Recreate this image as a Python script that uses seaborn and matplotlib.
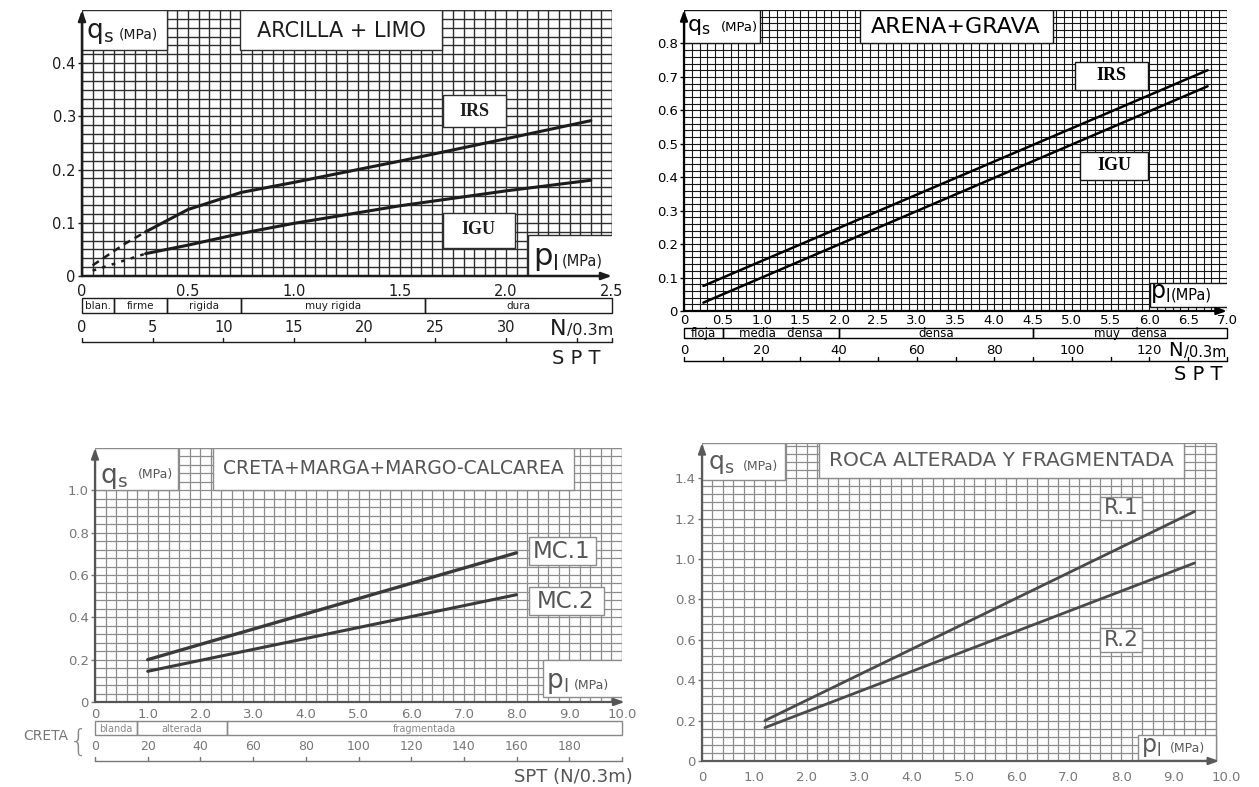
import numpy as np
import pandas as pd
import matplotlib
matplotlib.use("Agg")
import matplotlib.pyplot as plt
import matplotlib.transforms as mtransforms
from matplotlib.patches import Rectangle
import seaborn as sns

sns.set_theme(style="ticks")
plt.rcParams["font.family"] = ["DejaVu Sans"]
plt.rcParams["mathtext.fontset"] = "dejavusans"

W, H = 1259, 787

# ---------------- data ----------------
# ARCILLA + LIMO  (pl in MPa, qs in MPa)
arc_irs_pl = [0.05, 0.2, 0.3, 0.5, 0.75, 1.0, 1.5, 2.0, 2.4]
arc_irs_qs = [0.02, 0.06, 0.083, 0.125, 0.157, 0.176, 0.216, 0.258, 0.292]
arc_igu_pl = [0.05, 0.3, 0.5, 0.75, 1.0, 1.5, 2.0, 2.4]
arc_igu_qs = [0.01, 0.042, 0.058, 0.08, 0.099, 0.132, 0.16, 0.18]
arc_extrapolated_to = 0.3
arc_band_edges = [0, 0.15, 0.40, 0.75, 1.62, 2.5]
arc_band_labels = ["blan.", "firme", "rigida", "muy rigida", "dura"]
arc_spt_ticks = [0, 5, 10, 15, 20, 25, 30, 35]
arc_spt_labels = [0, 5, 10, 15, 20, 25, 30]
arc_n_per_mpa = 15
arc_xticks = [0, 0.5, 1.0, 1.5, 2.0, 2.5]
arc_xlabels = ["0", "0.5", "1.0", "1.5", "2.0", "2.5"]
arc_yticks = [0, 0.1, 0.2, 0.3, 0.4]
arc_ylabels = ["0", "0.1", "0.2", "0.3", "0.4"]

# ARENA + GRAVA
are_pl = [0.25, 6.75]
are_irs_qs = [0.075, 0.72]
are_igu_qs = [0.025, 0.672]
are_band_edges = [0, 0.5, 2.0, 4.5, 7.0]
are_band_labels = ["floja", "media   densa", "densa", "muy   densa"]
are_spt_ticks = [0, 10, 20, 30, 40, 50, 60, 70, 80, 90, 100, 110, 120, 130]
are_spt_labels = [0, 20, 40, 60, 80, 100, 120]
are_n_per_mpa = 20
are_xticks = [0, 0.5, 1.0, 1.5, 2.0, 2.5, 3.0, 3.5, 4.0, 4.5, 5.0, 5.5, 6.0, 6.5, 7.0]
are_xlabels = ["0", "0.5", "1.0", "1.5", "2.0", "2.5", "3.0", "3.5", "4.0",
               "4.5", "5.0", "5.5", "6.0", "6.5", "7.0"]
are_yticks = [0, 0.1, 0.2, 0.3, 0.4, 0.5, 0.6, 0.7, 0.8]
are_ylabels = ["0", "0.1", "0.2", "0.3", "0.4", "0.5", "0.6", "0.7", "0.8"]

# CRETA + MARGA + MARGO-CALCAREA
cre_pl = [1.0, 8.0]
cre_mc1_qs = [0.2, 0.705]
cre_mc2_qs = [0.145, 0.507]
cre_band_edges = [0, 0.8, 2.5, 10.0]
cre_band_labels = ["blanda", "alterada", "fragmentada"]
cre_spt_ticks = [0, 20, 40, 60, 80, 100, 120, 140, 160, 180]
cre_spt_labels = [0, 20, 40, 60, 80, 100, 120, 140, 160, 180]
cre_n_per_mpa = 20
rock_xticks = [0, 1, 2, 3, 4, 5, 6, 7, 8, 9, 10]
rock_xlabels = ["0", "1.0", "2.0", "3.0", "4.0", "5.0", "6.0", "7.0", "8.0", "9.0", "10.0"]
cre_yticks = [0, 0.2, 0.4, 0.6, 0.8, 1.0]
cre_ylabels = ["0", "0.2", "0.4", "0.6", "0.8", "1.0"]

# ROCA ALTERADA Y FRAGMENTADA
roc_pl = [1.2, 9.4]
roc_r1_qs = [0.2, 1.235]
roc_r2_qs = [0.165, 0.98]
roc_yticks = [0, 0.2, 0.4, 0.6, 0.8, 1.0, 1.2, 1.4]
roc_ylabels = ["0", "0.2", "0.4", "0.6", "0.8", "1.0", "1.2", "1.4"]

# ---------------- figure ----------------
fig = plt.figure(figsize=(W / 100, H / 100), dpi=100)
fig.patch.set_facecolor("white")
# figure pixel coordinates, origin top-left
PX = mtransforms.Affine2D().scale(1 / W, -1 / H).translate(0, 1) + fig.transFigure


def make_axes(x0, x1, ytop, ybot, xlim, ylim):
    ax = fig.add_axes([x0 / W, 1 - ybot / H, (x1 - x0) / W, (ybot - ytop) / H])
    ax.set_facecolor("white")
    for s in ax.spines.values():
        s.set_visible(False)
    ax.set_xlim(*xlim)
    ax.set_ylim(*ylim)
    return ax


def draw_paper(ax, gx, gy, dx, dy, color, lw):
    xs = np.round(np.arange(0, gx + dx / 2, dx), 6)
    ys = np.round(np.arange(0, gy + dy / 2, dy), 6)
    ax.vlines(xs, 0, gy, colors=color, lw=lw, zorder=1)
    ax.hlines(ys, 0, gx, colors=color, lw=lw, zorder=1)
    ax.vlines([gx], 0, gy, colors=color, lw=lw, zorder=1)
    ax.hlines([gy], 0, gx, colors=color, lw=lw, zorder=1)


def axes_arrows(ax, xend, yend, color, lw):
    style = "-|>,head_length=0.5,head_width=0.18"
    ax.annotate("", xy=(0, yend), xytext=(0, 0),
                arrowprops=dict(arrowstyle=style, color=color, lw=lw, shrinkA=0, shrinkB=0),
                annotation_clip=False, zorder=5)
    ax.annotate("", xy=(xend, 0), xytext=(0, 0),
                arrowprops=dict(arrowstyle=style, color=color, lw=lw, shrinkA=0, shrinkB=0),
                annotation_clip=False, zorder=5)


def box(ax, x0, y0, x1, y1, ec, lw=1.0):
    ax.add_patch(Rectangle((x0, y0), x1 - x0, y1 - y0, transform=PX, facecolor="white",
                           edgecolor=ec, lw=lw, zorder=3))


def ptext(ax, x, y, s, **kw):
    kw.setdefault("zorder", 6)
    return ax.text(x, y, s, transform=PX, **kw)


def ticks(ax, xt, xl, yt, yl, color, size, xpad, ypad=1.5):
    ax.set_xticks(xt)
    ax.set_xticklabels(xl)
    ax.set_yticks(yt)
    ax.set_yticklabels(yl)
    ax.tick_params(axis="x", bottom=True, length=0, pad=xpad, labelsize=size, colors=color)
    ax.tick_params(axis="y", left=True, length=3, width=1, pad=ypad, labelsize=size, colors=color)


def band(ax, edges, labels, ytop, ybot, color, size, lw=1.0):
    bt = mtransforms.blended_transform_factory(ax.transData, PX)
    for e0, e1, lab in zip(edges[:-1], edges[1:], labels):
        ax.add_patch(Rectangle((e0, ytop), e1 - e0, ybot - ytop, transform=bt, facecolor="none",
                               edgecolor=color, lw=lw, clip_on=False))
        ax.text((e0 + e1) / 2, (ytop + ybot) / 2 + 0.5, lab, transform=bt, ha="center",
                va="center", fontsize=size, color=color)


def spt_scale(ax, tick_n, label_n, n_per_mpa, xend, num_y, line_y, color, size, lw=1.0):
    bt = mtransforms.blended_transform_factory(ax.transData, PX)
    ax.plot([0, xend], [line_y, line_y], transform=bt, color=color, lw=lw, clip_on=False)
    for n in list(tick_n) + [xend * n_per_mpa]:
        p = n / n_per_mpa
        ax.plot([p, p], [line_y, line_y - 4], transform=bt, color=color, lw=lw, clip_on=False)
    for n in label_n:
        ax.text(n / n_per_mpa, num_y, str(n), transform=bt, ha="center", va="center",
                fontsize=size, color=color)


def curve(ax, x, y, color, lw, ls="-"):
    df = pd.DataFrame({"pl": x, "qs": y})
    sns.lineplot(data=df, x="pl", y="qs", ax=ax, color=color, lw=lw, linestyle=ls,
                 estimator=None, sort=False, legend=False, zorder=4)
    ax.set_xlabel("")
    ax.set_ylabel("")


serif_bold = dict(family=["Liberation Serif", "DejaVu Serif"], fontweight="bold")

# ================= ARCILLA + LIMO =================
c1, g1 = "#1c1c1c", "#2e2e2e"
ax1 = make_axes(82, 612, 10, 276, (0, 2.5), (0, 0.5))
draw_paper(ax1, 2.5, 0.5, 0.05, 1 / 60, g1, 1.0)
box(ax1, 82, 10, 167, 50, g1)
box(ax1, 240, 10, 442, 50, g1)
box(ax1, 443, 95, 506, 127, g1)
box(ax1, 443, 213, 515, 248, g1)
box(ax1, 528, 235, 613, 277, g1)
irs_pl = np.array(arc_irs_pl); irs_qs = np.array(arc_irs_qs)
igu_pl = np.array(arc_igu_pl); igu_qs = np.array(arc_igu_qs)
m = irs_pl <= arc_extrapolated_to
curve(ax1, irs_pl[m], irs_qs[m], c1, 1.8, (0, (3, 2)))
curve(ax1, irs_pl[irs_pl >= arc_extrapolated_to], irs_qs[irs_pl >= arc_extrapolated_to], c1, 2.2)
m = igu_pl <= arc_extrapolated_to
curve(ax1, igu_pl[m], igu_qs[m], c1, 1.8, (0, (1.5, 2.5)))
curve(ax1, igu_pl[igu_pl >= arc_extrapolated_to], igu_qs[igu_pl >= arc_extrapolated_to], c1, 2.2)
ax1.set_xlim(0, 2.5); ax1.set_ylim(0, 0.5)
axes_arrows(ax1, 2.5, 0.5, c1, 1.8)
ticks(ax1, arc_xticks, arc_xlabels, arc_yticks, arc_ylabels, c1, 10.5, 5.5)
ptext(ax1, 341, 31, "ARCILLA + LIMO", fontsize=15, color=c1, ha="center", va="center")
ptext(ax1, 474, 111, "IRS", fontsize=13, color=c1, ha="center", va="center", **serif_bold)
ptext(ax1, 478, 230, "IGU", fontsize=13, color=c1, ha="center", va="center", **serif_bold)
ptext(ax1, 86, 38, r"$\mathrm{q_s}$", fontsize=19, color=c1, ha="left", va="baseline")
ptext(ax1, 119, 38, "(MPa)", fontsize=10, color=c1, ha="left", va="baseline")
ptext(ax1, 533, 265, r"$\mathrm{p_l}$", fontsize=22, color=c1, ha="left", va="baseline")
ptext(ax1, 562, 266, "(MPa)", fontsize=10.5, color=c1, ha="left", va="baseline")
band(ax1, arc_band_edges, arc_band_labels, 298, 313, c1, 7.5)
spt_scale(ax1, arc_spt_ticks, arc_spt_labels, arc_n_per_mpa, 2.5, 328, 342, c1, 10.5)
ptext(ax1, 566, 329, "N", fontsize=16, color=c1, ha="right", va="center")
ptext(ax1, 567, 331, "/0.3m", fontsize=11.5, color=c1, ha="left", va="center")
ptext(ax1, 576, 359, "S P T", fontsize=14, color=c1, ha="center", va="center")

# ================= ARENA + GRAVA =================
c2, g2 = "#000000", "#151515"
ax2 = make_axes(684, 1227, 10, 311, (0, 7.0), (0, 0.9))
draw_paper(ax2, 7.0, 0.9, 0.1, 0.02, g2, 0.8)
box(ax2, 684, 10, 760, 43, g2)
box(ax2, 860, 10, 1053, 43, g2)
box(ax2, 1075, 62, 1148, 90, g2)
box(ax2, 1080, 152, 1148, 180, g2)
box(ax2, 1150, 283, 1228, 307, g2)
curve(ax2, are_pl, are_irs_qs, c2, 1.8)
curve(ax2, are_pl, are_igu_qs, c2, 1.8)
ax2.set_xlim(0, 7.0); ax2.set_ylim(0, 0.9)
axes_arrows(ax2, 7.0, 0.9, c2, 1.6)
ticks(ax2, are_xticks, are_xlabels, are_yticks, are_ylabels, c2, 9.5, 2.5)
ptext(ax2, 956, 27, "ARENA+GRAVA", fontsize=16, color=c2, ha="center", va="center")
ptext(ax2, 1111, 75, "IRS", fontsize=13, color=c2, ha="center", va="center", **serif_bold)
ptext(ax2, 1114, 166, "IGU", fontsize=13, color=c2, ha="center", va="center", **serif_bold)
ptext(ax2, 687, 31, r"$\mathrm{q_s}$", fontsize=16, color=c2, ha="left", va="baseline")
ptext(ax2, 721, 31, "(MPa)", fontsize=9.5, color=c2, ha="left", va="baseline")
ptext(ax2, 1150, 298, r"$\mathrm{p_l}$", fontsize=17, color=c2, ha="left", va="baseline")
ptext(ax2, 1171, 299, "(MPa)", fontsize=10.5, color=c2, ha="left", va="baseline")
band(ax2, are_band_edges, are_band_labels, 328, 338, c2, 8.5)
spt_scale(ax2, are_spt_ticks, are_spt_labels, are_n_per_mpa, 7.0, 350, 361, c2, 9.5)
ptext(ax2, 1183, 350, "N", fontsize=14, color=c2, ha="right", va="center")
ptext(ax2, 1184, 352, "/0.3m", fontsize=10.5, color=c2, ha="left", va="center")
ptext(ax2, 1198, 374, "S P T", fontsize=14, color=c2, ha="center", va="center")

# ================= CRETA + MARGA + MARGO-CALCAREA =================
c3, g3 = "#555555", "#8c8c8c"
ax3 = make_axes(95, 622, 448, 702, (0, 10.0), (0, 1.2))
draw_paper(ax3, 10.0, 1.2, 0.2, 0.04, g3, 0.9)
box(ax3, 95, 448, 178, 490, g3)
box(ax3, 213, 448, 574, 490, g3)
box(ax3, 529, 537, 596, 565, g3)
box(ax3, 529, 587, 604, 615, g3)
box(ax3, 543, 660, 623, 697, g3)
curve(ax3, cre_pl, cre_mc1_qs, "#3a3a3a", 2.4)
curve(ax3, cre_pl, cre_mc2_qs, "#3a3a3a", 2.2)
ax3.set_xlim(0, 10.0); ax3.set_ylim(0, 1.2)
axes_arrows(ax3, 10.05, 1.2, c3, 1.6)
ticks(ax3, rock_xticks, rock_xlabels, cre_yticks, cre_ylabels, "#777777", 9.5, 4.5)
ptext(ax3, 393, 469, "CRETA+MARGA+MARGO-CALCAREA", fontsize=13.5, color=c3, ha="center", va="center")
ptext(ax3, 562, 551, "MC.1", fontsize=16.5, color=c3, ha="center", va="center")
ptext(ax3, 566, 601, "MC.2", fontsize=16.5, color=c3, ha="center", va="center")
ptext(ax3, 100, 483, r"$\mathrm{q_s}$", fontsize=19, color=c3, ha="left", va="baseline")
ptext(ax3, 138, 478, "(MPa)", fontsize=9, color=c3, ha="left", va="baseline")
ptext(ax3, 546, 688, r"$\mathrm{p_l}$", fontsize=19, color=c3, ha="left", va="baseline")
ptext(ax3, 574, 689, "(MPa)", fontsize=9, color=c3, ha="left", va="baseline")
band(ax3, cre_band_edges, cre_band_labels, 721, 735, "#888888", 7)
spt_scale(ax3, cre_spt_ticks, cre_spt_labels, cre_n_per_mpa, 10.0, 746, 761, "#777777", 9)
ptext(ax3, 514, 777, "SPT (N/0.3m)", fontsize=13, color=c3, ha="left", va="center")
ptext(ax3, 46, 736, "CRETA", fontsize=10, color="#777777", ha="center", va="center")
ptext(ax3, 79, 742, "{", fontsize=22, color="#888888", ha="center", va="center",
      fontweight="light")

# ================= ROCA ALTERADA Y FRAGMENTADA =================
c4, g4 = "#5a5a5a", "#8c8c8c"
ax4 = make_axes(702, 1226, 443, 761, (0, 10.0), (0, 1.574))
draw_paper(ax4, 9.8, 1.574, 0.2, 0.04, g4, 0.9)
box(ax4, 702, 443, 785, 480, g4)
box(ax4, 819, 443, 1184, 478, g4)
box(ax4, 1100, 497, 1142, 520, g4)
box(ax4, 1100, 628, 1142, 652, g4)
box(ax4, 1138, 735, 1216, 760, g4)
curve(ax4, roc_pl, roc_r1_qs, "#4a4a4a", 2.0)
curve(ax4, roc_pl, roc_r2_qs, "#4a4a4a", 2.0)
ax4.set_xlim(0, 10.0); ax4.set_ylim(0, 1.574)
axes_arrows(ax4, 9.87, 1.574, c4, 1.6)
ticks(ax4, rock_xticks, rock_xlabels, roc_yticks, roc_ylabels, "#777777", 9.5, 7)
ptext(ax4, 1001, 461, "ROCA ALTERADA Y FRAGMENTADA", fontsize=14.5, color=c4, ha="center", va="center")
ptext(ax4, 1121, 508, "R.1", fontsize=15.5, color=c4, ha="center", va="center")
ptext(ax4, 1121, 640, "R.2", fontsize=15.5, color=c4, ha="center", va="center")
ptext(ax4, 708, 469, r"$\mathrm{q_s}$", fontsize=18, color=c4, ha="left", va="baseline")
ptext(ax4, 743, 470, "(MPa)", fontsize=9, color=c4, ha="left", va="baseline")
ptext(ax4, 1141, 752, r"$\mathrm{p_l}$", fontsize=17, color=c4, ha="left", va="baseline")
ptext(ax4, 1170, 752, "(MPa)", fontsize=9, color=c4, ha="left", va="baseline")

fig.savefig("out.png", dpi=100, facecolor="white")
